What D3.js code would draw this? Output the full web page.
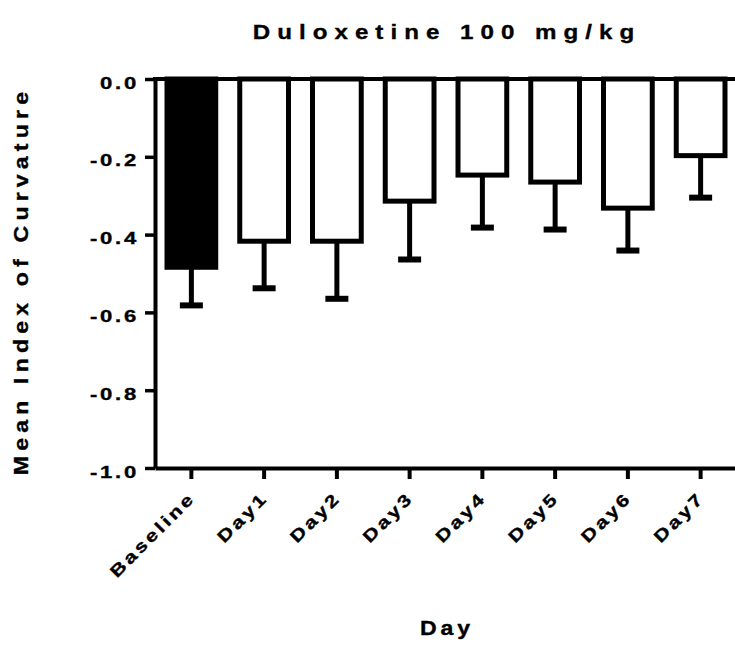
<!DOCTYPE html>
<html lang="en">
<head>
<meta charset="utf-8">
<title>Duloxetine 100 mg/kg</title>
<script src="https://d3js.org/d3.v7.min.js"></script>
<style>
  body { margin: 0; background: #fff; }
  text { font-family: "Liberation Sans", Arial, sans-serif; font-weight: bold; fill: #000; stroke: #000; stroke-width: 0.35px; }
</style>
</head>
<body>
<div id="my_dataviz"></div>
<script>

// data
var days = ["Baseline", "Day1", "Day2", "Day3", "Day4", "Day5", "Day6", "Day7"];
var meanCurv = [-0.484, -0.417, -0.417, -0.314, -0.247, -0.265, -0.332, -0.197];
var semCurv = [0.098, 0.121, 0.148, 0.150, 0.135, 0.122, 0.109, 0.108];
var yTicks = [0, -0.2, -0.4, -0.6, -0.8, -1.0];

var width = 735, height = 645;

var svg = d3.select("#my_dataviz").append("svg")
    .attr("width", width)
    .attr("height", height);

// scales
var x = d3.scaleBand()
    .domain(days)
    .range([155, 737])
    .paddingInner(0.33)
    .paddingOuter(0.165);

var y = d3.scaleLinear()
    .domain([-1, 0])
    .range([468, 79]);

// stretched, letter spaced text like the original export
function wideText(g, str, tx, ty, size, sx, ls, anchor, rot) {
  var t = g.append("text")
      .attr("transform", "translate(" + tx + "," + ty + ")" + (rot ? " rotate(" + rot + ")" : "") + " scale(" + sx + ",1)")
      .attr("text-anchor", anchor)
      .style("font-size", size + "px")
      .style("letter-spacing", ls + "px")
      .text(str);
  return t;
}

var bars = days.map(function(d, i) { return {day: d, mean: meanCurv[i], sem: semCurv[i]}; });

// bars
svg.append("g").selectAll("rect")
    .data(bars)
    .enter()
    .append("rect")
      .attr("x", function(d) { return x(d.day); })
      .attr("y", y(0))
      .attr("width", x.bandwidth())
      .attr("height", function(d) { return y(d.mean) - y(0); })
      .attr("fill", function(d, i) { return i === 0 ? "#000" : "#fff"; })
      .attr("stroke", "#000")
      .attr("stroke-width", 5);

// error bars (downward only)
var err = svg.append("g");
err.selectAll("line.stem")
    .data(bars)
    .enter()
    .append("line")
      .attr("class", "stem")
      .attr("x1", function(d) { return x(d.day) + x.bandwidth() / 2; })
      .attr("x2", function(d) { return x(d.day) + x.bandwidth() / 2; })
      .attr("y1", function(d) { return y(d.mean); })
      .attr("y2", function(d) { return y(d.mean - d.sem); })
      .attr("stroke", "#000")
      .attr("stroke-width", 5);

err.selectAll("line.cap")
    .data(bars)
    .enter()
    .append("line")
      .attr("class", "cap")
      .attr("x1", function(d) { return x(d.day) + x.bandwidth() / 2 - 11.5; })
      .attr("x2", function(d) { return x(d.day) + x.bandwidth() / 2 + 11.5; })
      .attr("y1", function(d) { return y(d.mean - d.sem); })
      .attr("y2", function(d) { return y(d.mean - d.sem); })
      .attr("stroke", "#000")
      .attr("stroke-width", 6);

// zero line across the top
svg.append("line")
    .attr("x1", 153)
    .attr("x2", width)
    .attr("y1", y(0))
    .attr("y2", y(0))
    .attr("stroke", "#000")
    .attr("stroke-width", 4);

// y axis
var yAxis = svg.append("g")
    .attr("transform", "translate(155,0)")
    .call(d3.axisLeft(y).tickValues(yTicks).tickSize(10).tickSizeOuter(0).tickFormat(d3.format(".1f")));
yAxis.select(".domain").attr("stroke-width", 4);
yAxis.selectAll(".tick line").attr("stroke-width", 3.5);
yAxis.selectAll(".tick text").remove();
yAxis.selectAll(".tick").each(function(d) {
  wideText(d3.select(this), d3.format(".1f")(d).replace("−", "-"), -16, 9, 17, 1.3, 2.1, "end");
});

// x axis
var xAxis = svg.append("g")
    .attr("transform", "translate(0,468)")
    .call(d3.axisBottom(x).tickSize(11).tickSizeOuter(0));
xAxis.select(".domain").attr("stroke-width", 4);
xAxis.selectAll(".tick line").attr("stroke-width", 4);
xAxis.selectAll(".tick text").remove();
xAxis.selectAll(".tick").each(function(d) {
  wideText(d3.select(this), d, 5, 31, 17, 1.25, 2.5, "end", -45);
});

// titles
wideText(svg, "Duloxetine 100 mg/kg", 447, 39, 21, 1.15, 6.1, "middle");
wideText(svg, "Mean Index of Curvature", 28, 281, 21, 1.1, 4.7, "middle", -90);
wideText(svg, "Day", 447, 635, 21, 1.1, 3.5, "middle");

</script>
</body>
</html>
